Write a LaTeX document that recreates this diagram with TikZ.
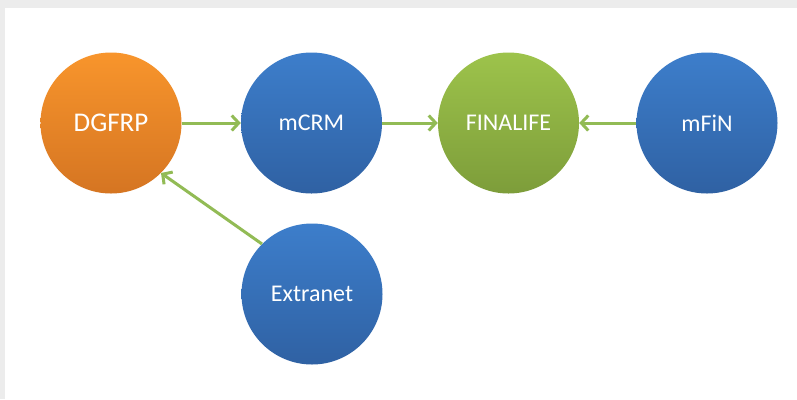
\documentclass[tikz,border=0pt]{standalone}
\usepackage{fontspec}
\setmainfont{Carlito}
\usetikzlibrary{arrows.meta}
\definecolor{bggray}{HTML}{ECECEC}
\definecolor{arrgreen}{HTML}{92BB55}
\begin{document}
\begin{tikzpicture}[x=1bp,y=-1bp,
  bub/.style={circle,minimum size=141bp,inner sep=0pt,text=white,font=\fontsize{24bp}{28bp}\selectfont},
  bluebub/.style={bub,top color=blue1top,bottom color=blue1bot},
  greenbub/.style={bub,top color=green1top,bottom color=green1bot},
  orangebub/.style={bub,top color=orng1top,bottom color=orng1bot},
  conn/.style={draw=arrgreen,line width=3bp,-{Straight Barb[length=7bp,width=15bp,line width=3bp]}}]
\definecolor{blue1top}{HTML}{3D7ECB}
\definecolor{blue1bot}{HTML}{2F61A3}
\definecolor{green1top}{HTML}{9DC34B}
\definecolor{green1bot}{HTML}{7D9D3A}
\definecolor{orng1top}{HTML}{F8952C}
\definecolor{orng1bot}{HTML}{D57522}
\fill[bggray] (0,0) rectangle (797,399);
\fill[white] (5,8) rectangle (797,399);
\useasboundingbox (0,0) rectangle (797,399);
\node[orangebub,font=\fontsize{27bp}{30bp}\selectfont] (dg) at (111,123) {DGFRP};
\node[bluebub] (crm) at (311.5,123) {mCRM};
\node[greenbub] (fin) at (508.5,123) {FINALIFE};
\node[bluebub] (mfin) at (707,123) {mFiN};
\node[bluebub] (ext) at (312,294) {Extranet};
\draw[conn] (dg) -- (crm);
\draw[conn] (crm) -- (fin);
\draw[conn] (mfin) -- (fin);
\draw[conn] (ext.north west) -- (dg.south east);
\end{tikzpicture}
\end{document}
